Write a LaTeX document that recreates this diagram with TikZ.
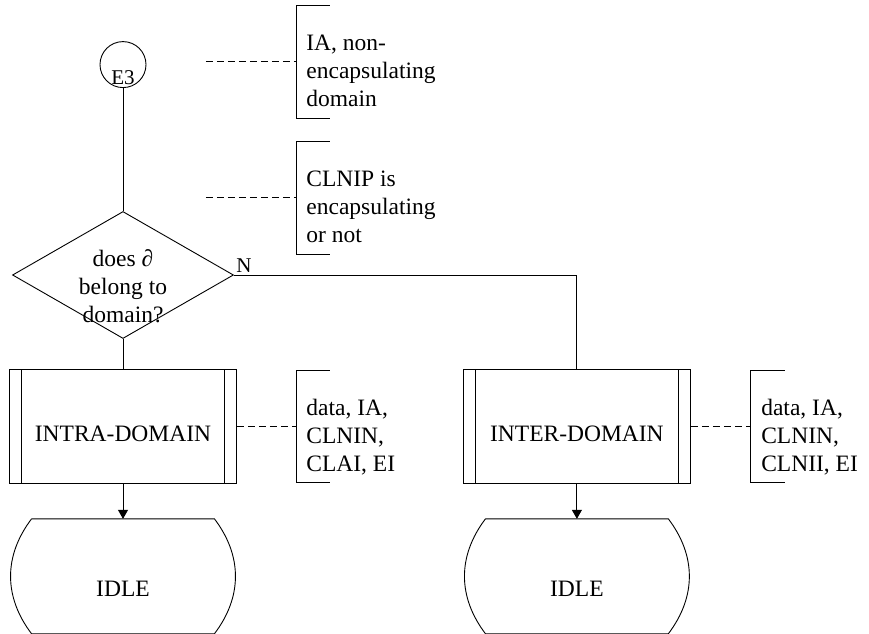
\documentclass[tikz,border=0pt]{standalone}
\usepackage{fontspec}
\setmainfont{Liberation Serif}
\usepackage{tikz}
\usetikzlibrary{positioning,arrows.meta,shapes.geometric}

\begin{document}
\begin{tikzpicture}[
  x=1pt, y=1pt, line width=0.9pt,
  font=\fontsize{23.5pt}{28pt}\selectfont,
  conn/.style={draw, circle, minimum size=46pt, inner sep=0pt, text height=39pt, text depth=0pt, font=\fontsize{21pt}{25pt}\selectfont},
  decision/.style={draw, diamond, minimum width=221pt, minimum height=127pt, inner sep=0pt},
  proc/.style={draw, minimum width=227pt, minimum height=114pt, inner sep=0pt, text height=30pt, text depth=0pt,
    path picture={\draw ([xshift=12pt]path picture bounding box.north west) -- ([xshift=12pt]path picture bounding box.south west)
      ([xshift=-12pt]path picture bounding box.north east) -- ([xshift=-12pt]path picture bounding box.south east);}},
  statebox/.style={minimum width=182pt, minimum height=114pt, inner sep=0pt, text height=40pt, text depth=0pt},
  note/.style={anchor=west, minimum height=112pt, inner xsep=10pt, inner ysep=0pt, align=left, text height=90pt, text depth=0pt},
  dashline/.style={dash pattern=on 7pt off 4pt},
  arr/.style={-{Triangle[length=9pt,width=10pt]}},
]
\useasboundingbox (0,0) rectangle (869,633);
\node[decision] (dec) at (123,358) {};
\node[align=center, inner sep=0pt] (dectext) at ([yshift=-11pt]dec.center) {does ∂\\ belong to\\ domain?};
\node[conn, above=123pt of dec] (e3) {E3};
\node[proc, below=30pt of dec] (intra) {INTRA-DOMAIN};
\node[statebox, below=35pt of intra] (idle1) {IDLE};
\node[proc, right=226pt of intra] (inter) {INTER-DOMAIN};
\node[statebox, below=35pt of inter] (idle2) {IDLE};
\node[anchor=south west, inner sep=2pt, font=\fontsize{21pt}{25pt}\selectfont] (nlbl) at (dec.east) {N};
% comments
\node[note, right=59pt of intra] (c3) {data, IA,\\ CLNIN,\\ CLAI, EI};
\node[note, right=60pt of inter] (c4) {data, IA,\\ CLNIN,\\ CLNII, EI};
\node[note, above=116pt of c3.north west, anchor=south west] (c2) {CLNIP is\\ encapsulating\\ or not};
\node[note, above=23pt of c2.north west, anchor=south west] (c1) {IA, non-\\ encapsulating\\ domain};
\coordinate[left=90pt of c1.west] (d1);
\coordinate[left=90pt of c2.west] (d2);
\foreach \n in {c1,c2,c3,c4}
  \draw ([xshift=34pt]\n.north west) -- (\n.north west) -- (\n.south west) -- ([xshift=34pt]\n.south west);
\foreach \n in {idle1,idle2}
  \draw (\n.north west) -- (\n.north east) .. controls +(28,-37) and +(28,37) .. (\n.south east)
    -- (\n.south west) .. controls +(-28,37) and +(-28,-37) .. (\n.north west);
% flow
\draw (e3) -- (dec);
\draw (dec) -- (intra);
\draw (dec.east) -| (inter.north);
\draw[arr] (intra) -- (idle1);
\draw[arr] (inter) -- (idle2);
\draw[dashline] (d1) -- (c1.west);
\draw[dashline] (d2) -- (c2.west);
\draw[dashline] (intra) -- (c3);
\draw[dashline] (inter) -- (c4);
\end{tikzpicture}
\end{document}
